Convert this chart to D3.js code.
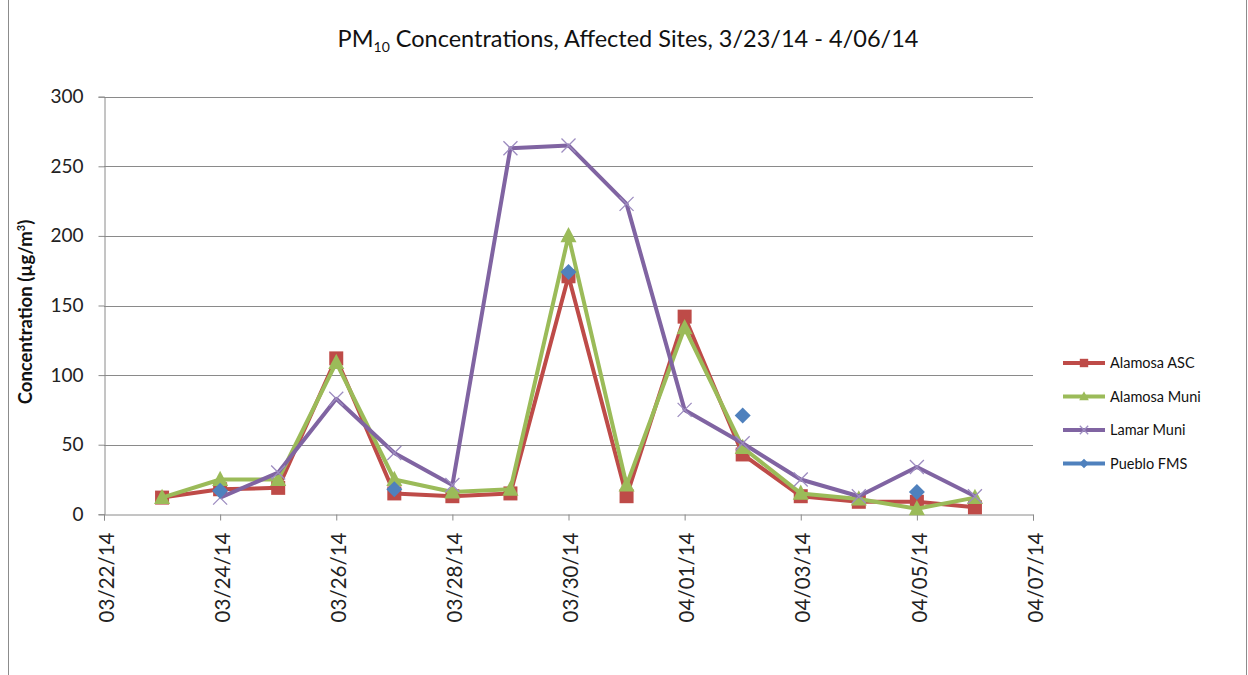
<!DOCTYPE html>
<html><head><meta charset="utf-8">
<script src="https://cdn.jsdelivr.net/npm/d3@7"></script>
<style>body{margin:0;background:#fff;} svg{display:block;font-family:Lato,"Open Sans",sans-serif;}</style>
</head><body>
<svg id="c" width="1248" height="675"></svg>
<script>
const dates = ["2014-03-23","2014-03-24","2014-03-25","2014-03-26","2014-03-27","2014-03-28","2014-03-29","2014-03-30","2014-03-31","2014-04-01","2014-04-02","2014-04-03","2014-04-04","2014-04-05","2014-04-06"];
const alamosaASC  = [12, 18, 19, 112, 15, 13, 15, 171, 13, 142, 43, 13, 9, 9, 5];
const alamosaMuni = [12, 25, 25, 109, 25, 16, 18, 200, 21, 134, 48, 15, 11, 4, 12];
const lamarMuni   = [null, 12, 30, 83, 44, 21, 263, 265, 223, 75, 51, 25, 13, 34, 13];
const puebloFMS   = [null, 17, null, null, 18, null, null, 174, null, null, 71, null, null, 16, null];
const seriesNames = ["Alamosa ASC", "Alamosa Muni", "Lamar Muni", "Pueblo FMS"];
const xTickDates = ["2014-03-22","2014-03-24","2014-03-26","2014-03-28","2014-03-30","2014-04-01","2014-04-03","2014-04-05","2014-04-07"];
const yTicks = [0, 50, 100, 150, 200, 250, 300];

const parse = d3.timeParse("%Y-%m-%d");
const fmt = d3.timeFormat("%m/%d/%y");
const svg = d3.select("#c");

// chart border
svg.append("rect").attr("x",8.5).attr("y",-1).attr("width",1238).attr("height",677)
  .attr("fill","none").attr("stroke","#8c8c8c").attr("stroke-width",1);

const x = d3.scaleTime().domain([parse("2014-03-22"), parse("2014-04-07")]).range([104, 1033]);
const y = d3.scaleLinear().domain([0, 300]).range([514.3, 96.7]);

// gridlines
svg.append("g").selectAll("line").data(yTicks.filter(v=>v>0)).join("line")
  .attr("x1",104).attr("x2",1033).attr("y1",d=>Math.round(y(d))+0.5).attr("y2",d=>Math.round(y(d))+0.5)
  .attr("stroke","#8a8a8a").attr("stroke-width",1);

// y axis
const ya = svg.append("g").attr("transform","translate(104.5,0)")
  .call(d3.axisLeft(y).tickValues(yTicks).tickSize(6).tickPadding(15));
ya.select(".domain").attr("stroke","#8a8a8a");
ya.selectAll(".tick line").attr("stroke","#8a8a8a");
ya.selectAll(".tick text").attr("font-size",19).attr("fill","#222").attr("font-family","Lato,sans-serif");

// x axis
const xa = svg.append("g").attr("transform",`translate(0,${Math.round(y(0))+0.5})`)
  .call(d3.axisBottom(x).tickValues(xTickDates.map(parse)).tickFormat(fmt).tickSize(6).tickPadding(8));
xa.select(".domain").attr("stroke","#8a8a8a");
xa.selectAll(".tick line").attr("stroke","#8a8a8a");
xa.selectAll(".tick text").attr("font-size",20.5).attr("fill","#222").attr("font-family","Lato,sans-serif")
  .attr("transform","rotate(-90)").attr("text-anchor","end").attr("dx","-18").attr("dy","0.45em").attr("x",0).attr("y",0);

// title
const t = svg.append("text").attr("x",628).attr("y",47).attr("text-anchor","middle")
  .attr("font-size",23.5).attr("fill","#111");
t.append("tspan").text("PM");
t.append("tspan").attr("font-size",14).attr("dy",5).text("10");
t.append("tspan").attr("dy",-5).text(" Concentrations, Affected Sites, 3/23/14 - 4/06/14");

// y title
const yt = svg.append("text").attr("transform","translate(32,312) rotate(-90)").attr("text-anchor","middle")
  .attr("font-size",18.5).attr("font-weight","bold").attr("fill","#111");
yt.append("tspan").text("Concentration (µg/m");
yt.append("tspan").attr("font-size",11).attr("dy",-7).text("3");
yt.append("tspan").attr("dy",7).text(")");

const colors = ["#BE4B48", "#9BBB59", "#8064A2", "#4F81BD"];
const allSeries = [alamosaASC, alamosaMuni, lamarMuni, puebloFMS];
const drawLine = [true, true, true, false];

function marker(g, i, cx, cy, scale) {
  const s = scale || 1;
  if (i === 0) {
    g.append("rect").attr("x",cx-7*s).attr("y",cy-7*s).attr("width",14*s).attr("height",14*s).attr("fill",colors[0]);
  } else if (i === 1) {
    const h = 8*s;
    g.append("path").attr("d",`M${cx},${cy-h*1.1}L${cx+h},${cy+h*0.8}L${cx-h},${cy+h*0.8}Z`).attr("fill",colors[1]);
  } else if (i === 2) {
    const h = 7*s;
    g.append("path").attr("d",`M${cx-h},${cy-h}L${cx+h},${cy+h}M${cx-h},${cy+h}L${cx+h},${cy-h}`)
      .attr("stroke","#9d8cc0").attr("stroke-width",1.3).attr("fill","none");
  } else {
    const h = 8*s;
    g.append("path").attr("d",`M${cx},${cy-h}L${cx+h},${cy}L${cx},${cy+h}L${cx-h},${cy}Z`).attr("fill",colors[3]);
  }
}

const line = d3.line().defined(d=>d.v!==null).x(d=>x(d.d)).y(d=>y(d.v));
allSeries.forEach((vals, i) => {
  const pts = dates.map((d,k)=>({d:parse(d), v:vals[k]}));
  const g = svg.append("g");
  if (drawLine[i]) {
    g.append("path").datum(pts).attr("d",line).attr("fill","none").attr("stroke",colors[i])
      .attr("stroke-width",4).attr("stroke-linejoin","round");
  }
  pts.filter(p=>p.v!==null).forEach(p => marker(g, i, x(p.d), y(p.v)));
});

// legend
const lg = svg.append("g");
seriesNames.forEach((n, i) => {
  const yy = 363 + i*33.5;
  lg.append("line").attr("x1",1063).attr("x2",1105).attr("y1",yy).attr("y2",yy)
    .attr("stroke",colors[i]).attr("stroke-width",4);
  marker(lg, i, 1084, yy, 0.6);
  lg.append("text").attr("x",1110).attr("y",yy+5).attr("font-size",14.5).attr("fill","#111").text(n);
});
</script>
</body></html>
